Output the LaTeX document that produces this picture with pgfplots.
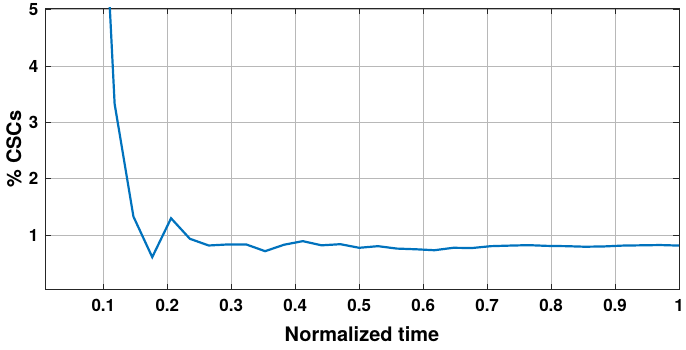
\documentclass[border=0pt]{standalone}
\usepackage{pgfplots}
\pgfplotsset{compat=1.18}
\usepackage{fontspec}
\setmainfont{TeX Gyre Heros}
\definecolor{mblue}{RGB}{0,114,189}
\begin{document}
\begin{tikzpicture}
\begin{axis}[
  scale only axis,
  width=635pt, height=282pt,
  xmin=0.0087, xmax=1, ymin=0.035, ymax=5.03,
  xtick={0.1,0.2,0.3,0.4,0.5,0.6,0.7,0.8,0.9,1},
  xticklabels={0.1,0.2,0.3,0.4,0.5,0.6,0.7,0.8,0.9,1},
  ytick={1,2,3,4,5},
  yticklabels={1,2,3,4,5},
  tick pos=both, tick align=inside,
  major tick length=6pt,
  grid=major,
  grid style={black!28, line width=0.6pt},
  axis line style={black!85, line width=0.8pt},
  tick style={black!85, line width=0.8pt},
  /pgf/number format/assume math mode=true,
  tick label style={font=\fontsize{17}{20}\selectfont\bfseries},
  xticklabel style={yshift=-6pt},
  yticklabel style={xshift=-3pt},
  label style={font=\fontsize{20}{24}\selectfont\bfseries},
  xlabel={Normalized time},
  ylabel={\% CSCs},
  xlabel style={at={(axis description cs:0.5,0)}, anchor=center, yshift=-45pt},
  ylabel style={at={(axis description cs:-0.049,0.5)}, anchor=center, rotate=0},
]
\addplot[mblue, line width=2.2pt] coordinates {
(0.088235,10.0)
(0.117647,3.33)
(0.147059,1.33)
(0.176471,0.61)
(0.205882,1.30)
(0.235294,0.936)
(0.264706,0.817)
(0.294118,0.835)
(0.323529,0.835)
(0.352941,0.716)
(0.382353,0.83)
(0.411765,0.894)
(0.441176,0.82)
(0.470588,0.84)
(0.5,0.776)
(0.529412,0.805)
(0.558824,0.762)
(0.588235,0.75)
(0.617647,0.733)
(0.647059,0.776)
(0.676471,0.772)
(0.705882,0.805)
(0.735294,0.815)
(0.764706,0.823)
(0.794118,0.81)
(0.823529,0.805)
(0.852941,0.795)
(0.882353,0.80)
(0.911765,0.815)
(0.941176,0.82)
(0.970588,0.825)
(1.0,0.815)
};
\end{axis}
\pgfresetboundingbox
\path ([xshift=-45pt,yshift=-60pt]current axis.south west) rectangle ([xshift=7pt,yshift=8pt]current axis.north east);
\end{tikzpicture}
\end{document}
